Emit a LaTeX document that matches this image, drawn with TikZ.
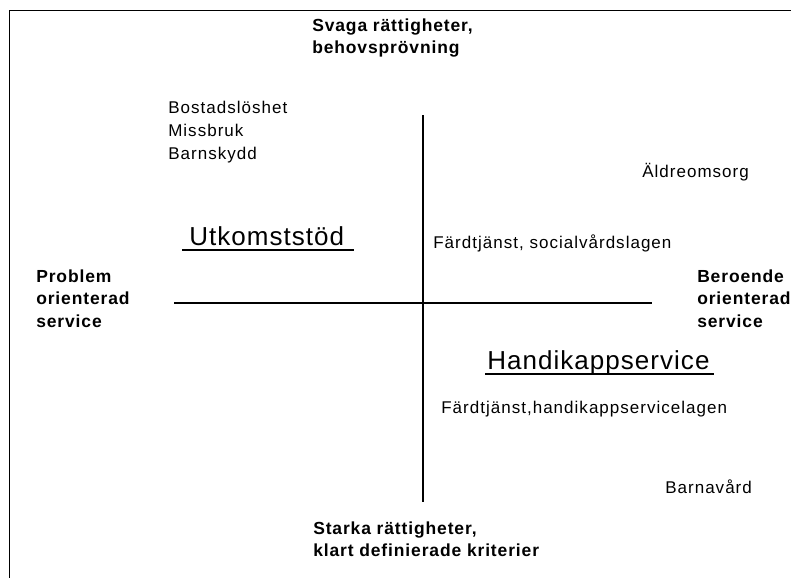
\documentclass[tikz,border=0pt]{standalone}
\usepackage{fontspec}
\setmainfont{Liberation Sans}
\tikzset{
  plain/.style={anchor=base west, inner sep=0pt,
    font=\fontsize{12.75}{15}\selectfont\addfontfeature{LetterSpace=6}},
  pole/.style={anchor=base west, inner sep=0pt,
    font=\fontsize{13.1}{15}\selectfont\bfseries\addfontfeature{LetterSpace=5}},
  area/.style={anchor=base west, inner sep=0pt,
    font=\fontsize{19.5}{22}\selectfont\addfontfeature{LetterSpace=4}},
  axis/.style={line width=1.1pt},
  uline/.style={line width=1pt},
}
\begin{document}
\begin{tikzpicture}[x=0.75pt,y=-0.75pt]
\useasboundingbox (0,0) rectangle (791,578);
% frame (open at right and bottom)
\draw[axis] (791,10.5) -- (9.5,10.5) -- (9.5,578);

% axes
\coordinate (top) at (423,115);
\coordinate (bottom) at (423,502);
\coordinate (left) at (174,303);
\coordinate (right) at (652,303);
\draw[axis] (top) -- (bottom);
\draw[axis] (left) -- (right);

% poles
\node[pole] (svaga1) at (312,31) {Svaga rättigheter,};
\node[pole] (svaga2) at (312,53) {behovsprövning};

\node[pole] (stark1) at (313,534) {Starka rättigheter,};
\node[pole] (stark2) at (313,556) {klart definierade kriterier};

\node[pole] (prob1) at (36,282) {Problem};
\node[pole] (prob2) at (36,304) {orienterad};
\node[pole] (prob3) at (36,327) {service};

\node[pole] (ber1) at (697,282) {Beroende};
\node[pole] (ber2) at (697,304) {orienterad};
\node[pole] (ber3) at (697,327) {service};

% upper left
\node[plain] (bost) at (168,113) {Bostadslöshet};
\node[plain] (miss) at (168,136) {Missbruk};
\node[plain] (barnsk) at (168,159) {Barnskydd};

\node[area] (utk) at (189,245) {Utkomststöd};
\draw[uline] ([shift={(-7,5)}]utk.base west) -- ([shift={(10,5)}]utk.base east);

% upper right
\node[plain] (aldre) at (642,177) {Äldreomsorg};
\node[plain] (fsoc) at (433,248) {Färdtjänst, socialvårdslagen};

% lower right
\node[area] (handi) at (487,369) {Handikappservice};
\draw[uline] ([shift={(-2,5)}]handi.base west) -- ([shift={(4,5)}]handi.base east);

\node[plain] (fhand) at (441,413) {Färdtjänst,handikappservicelagen};
\node[plain] (barnav) at (665,493) {Barnavård};
\end{tikzpicture}
\end{document}
